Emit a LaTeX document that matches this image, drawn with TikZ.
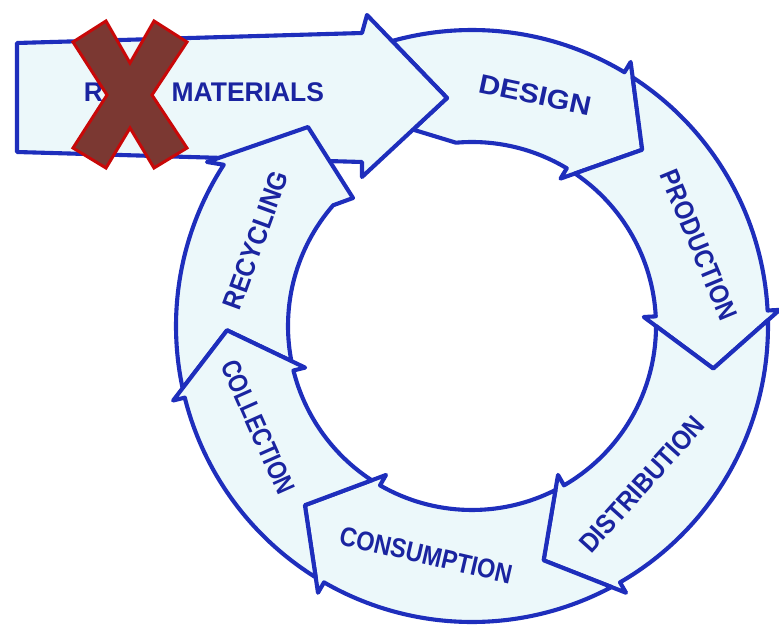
\documentclass[tikz,border=0pt]{standalone}
\usepackage{fontspec}
\setmainfont{Liberation Sans}
\usetikzlibrary{calc}

\definecolor{ink}{RGB}{30,46,188}
\definecolor{pen}{RGB}{26,36,160}
\definecolor{paper}{RGB}{236,248,250}
\definecolor{crossfill}{RGB}{123,56,50}
\definecolor{crossedge}{RGB}{200,8,8}

% ring geometry (pt): outer, inner, chevron tip radius, barb overhang
\def\Ro{296}
\def\Ri{184}
\def\Rm{245}
\def\Rb{12}

% one ring segment: tail boundary angle #1, head boundary angle #2 (clockwise)
\newcommand\ringseg[2]{%
  \draw[seg] ($(C)+(#1-1.87:\Ro)$)
    arc[start angle=#1-1.87, end angle=#2, radius=\Ro]
    -- ($(C)+(#2:\Ro+\Rb)$) -- ($(C)+(#2-13:\Rm)$)
    -- ($(C)+(#2:\Ri-\Rb)$) -- ($(C)+(#2:\Ri)$)
    arc[start angle=#2, end angle=#1-3.02, radius=\Ri]
    -- ($(C)+(#1-13:\Rm)$) -- cycle;}

\begin{document}
\begin{tikzpicture}[x=1pt,y=1pt,
  seg/.style={draw=ink, fill=paper, line width=4.1pt, line join=round, line cap=round},
  lbl/.style={text=pen, font=\bfseries\fontsize{27}{27}\selectfont, inner sep=0pt},
  cross/.style={fill=crossfill, draw=crossedge, line width=3pt, line join=miter},
]
\useasboundingbox (0,0) rectangle (779,-631);
\fill[white] (0,0) rectangle (779,-631);
\coordinate (C) at (472,-326);

% Design: tail sits in the notch of the raw-materials arrow head
\draw[seg] ($(C)+(105.66:\Ro)$)
  arc[start angle=105.66, end angle=59, radius=\Ro]
  -- ($(C)+(59:\Ro+\Rb)$) -- ($(C)+(46:\Rm)$)
  -- ($(C)+(59:\Ri-\Rb)$) -- ($(C)+(59:\Ri)$)
  arc[start angle=59, end angle=95, radius=\Ri]
  -- (413,-129.6) -- (447,-98) -- cycle;

% raw materials arrow
\draw[seg] (17,-43) -- (362,-33) -- (367,-15) -- (447,-98)
  -- (362,-177) -- (362,-162) -- (17,-152) -- cycle;
\node[lbl] (raw) at (204,-92) {\scalebox{0.98}[1]{RAW\hspace{19pt} MATERIALS}};

% Recycling: its head reaches up over the raw materials arrow
\draw[seg] ($(C)+(192.13:\Ro)$)
  arc[start angle=192.13, end angle=147, radius=\Ro]
  -- (207,-162) -- (308,-127) -- (353,-198) -- ($(C)+(139:\Ri)$)
  arc[start angle=139, end angle=190.98, radius=\Ri]
  -- ($(C)+(181:\Rm)$) -- cycle;

\ringseg{59}{3}      % production
\ringseg{3}{-60}     % distribution
\ringseg{-60}{-120}  % consumption
\ringseg{-120}{-166} % collection

% labels
\node[lbl, rotate=-12] (design) at (535,-95) {\scalebox{1.1}[1]{DESIGN}};
\node[lbl, rotate=-67.5] (production) at (699,-245) {\scalebox{0.88}[1]{PRODUCTION}};
\node[lbl, rotate=48] (distribution) at (642,-484) {\scalebox{0.9}[1]{DISTRIBUTION}};
\node[lbl, rotate=-13] (consumption) at (426,-555) {\scalebox{0.87}[1]{CONSUMPTION}};
\node[lbl, rotate=-66] (collection) at (258,-427) {\scalebox{0.82}[1]{COLLECTION}};
\node[lbl, rotate=70] (recycling) at (256,-240) {\scalebox{0.91}[1]{RECYCLING}};

% cross over the first word
\draw[cross] (73,-42) -- (106,-21) -- (130,-63) -- (154,-21) -- (187,-42)
  -- (152,-95) -- (187,-148) -- (154,-168) -- (130,-128) -- (106,-168)
  -- (73,-148) -- (107,-95) -- cycle;
\end{tikzpicture}
\end{document}
